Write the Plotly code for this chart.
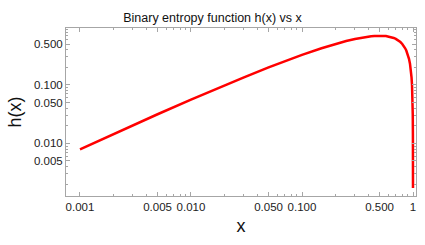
import plotly.graph_objects as go

# values (x, h(x))
x_vals = [0.001, 0.002, 0.003, 0.005, 0.01, 0.02, 0.03, 0.05, 0.07, 0.1, 0.15, 0.2, 0.25, 0.3,
          0.35, 0.4, 0.42, 0.45, 0.47, 0.5, 0.52, 0.55, 0.57, 0.6, 0.62, 0.65, 0.67, 0.7, 0.72,
          0.75, 0.77, 0.8, 0.82, 0.85, 0.87, 0.9, 0.92, 0.94, 0.95, 0.96, 0.97, 0.98, 0.985,
          0.99, 0.995, 0.998, 0.999, 0.9995, 0.9998, 0.99982]
h_vals = [0.00791, 0.01443, 0.02042, 0.03148, 0.05600, 0.09804, 0.13474, 0.19852, 0.25364, 0.32508,
          0.42271, 0.50040, 0.56233, 0.61086, 0.64745, 0.67301, 0.68029, 0.68814, 0.69135, 0.69315,
          0.69234, 0.68814, 0.68332, 0.67301, 0.66406, 0.64745, 0.63418, 0.61086, 0.59295,
          0.56233, 0.53928, 0.50040, 0.47139, 0.42271, 0.38639, 0.32508, 0.27877, 0.22697,
          0.19852, 0.16795, 0.13475, 0.09804, 0.07788, 0.05600, 0.03148, 0.01443, 0.00791,
          0.00430, 0.00190, 0.00173]

x_ticks = [0.001, 0.005, 0.01, 0.05, 0.1, 0.5, 1]
x_tick_labels = ["0.001", "0.005", "0.010", "0.050", "0.100", "0.500", "1"]
y_ticks = [0.005, 0.01, 0.05, 0.1, 0.5]
y_tick_labels = ["0.005", "0.010", "0.050", "0.100", "0.500"]

x_minor = [m * 10 ** e for e in (-3, -2, -1) for m in (2, 3, 4, 6, 7, 8, 9)]
y_minor = [m * 10 ** e for e in (-3, -2, -1) for m in (2, 3, 4, 6, 7, 8, 9)]

fig = go.Figure()
fig.add_trace(go.Scatter(x=x_vals, y=h_vals, mode="lines",
                         line=dict(color="#ff0000", width=2.5), showlegend=False))

frame = "#a6a6a6"
axis_common = dict(type="log", showgrid=False, zeroline=False, showline=True,
                   linecolor=frame, linewidth=1, mirror="allticks", ticks="inside",
                   tickcolor=frame, ticklen=4, tickwidth=1,
                   tickfont=dict(family="Liberation Sans, Arial", size=11.5, color="#222"),
                   title_font=dict(family="Liberation Sans, Arial", size=18, color="#111"))

fig.update_xaxes(**axis_common, range=[-3.126, 0.027], tickmode="array",
                 tickvals=x_ticks, ticktext=x_tick_labels, title_text="x", title_standoff=7,
                 minor=dict(tickmode="array", tickvals=x_minor, ticks="inside",
                            ticklen=2, tickcolor=frame))
fig.update_yaxes(**axis_common, range=[-2.90, -0.0275], tickmode="array",
                 tickvals=y_ticks, ticktext=y_tick_labels, title_text="h(x)", title_standoff=7,
                 minor=dict(tickmode="array", tickvals=y_minor, ticks="inside",
                            ticklen=2, tickcolor=frame))

fig.update_layout(
    width=425, height=245,
    margin=dict(l=66, r=9, t=28, b=49, autoexpand=False),
    paper_bgcolor="white", plot_bgcolor="white",
    title=dict(text="Binary entropy function h(x) vs x", x=0.5, xanchor="center",
               y=1 - 18 / 245, yanchor="middle",
               font=dict(family="Liberation Sans, Arial", size=12.5, color="#111")),
)

fig.write_html("out.html", config={"displayModeBar": False},
               post_script="document.body.style.margin='0';")
